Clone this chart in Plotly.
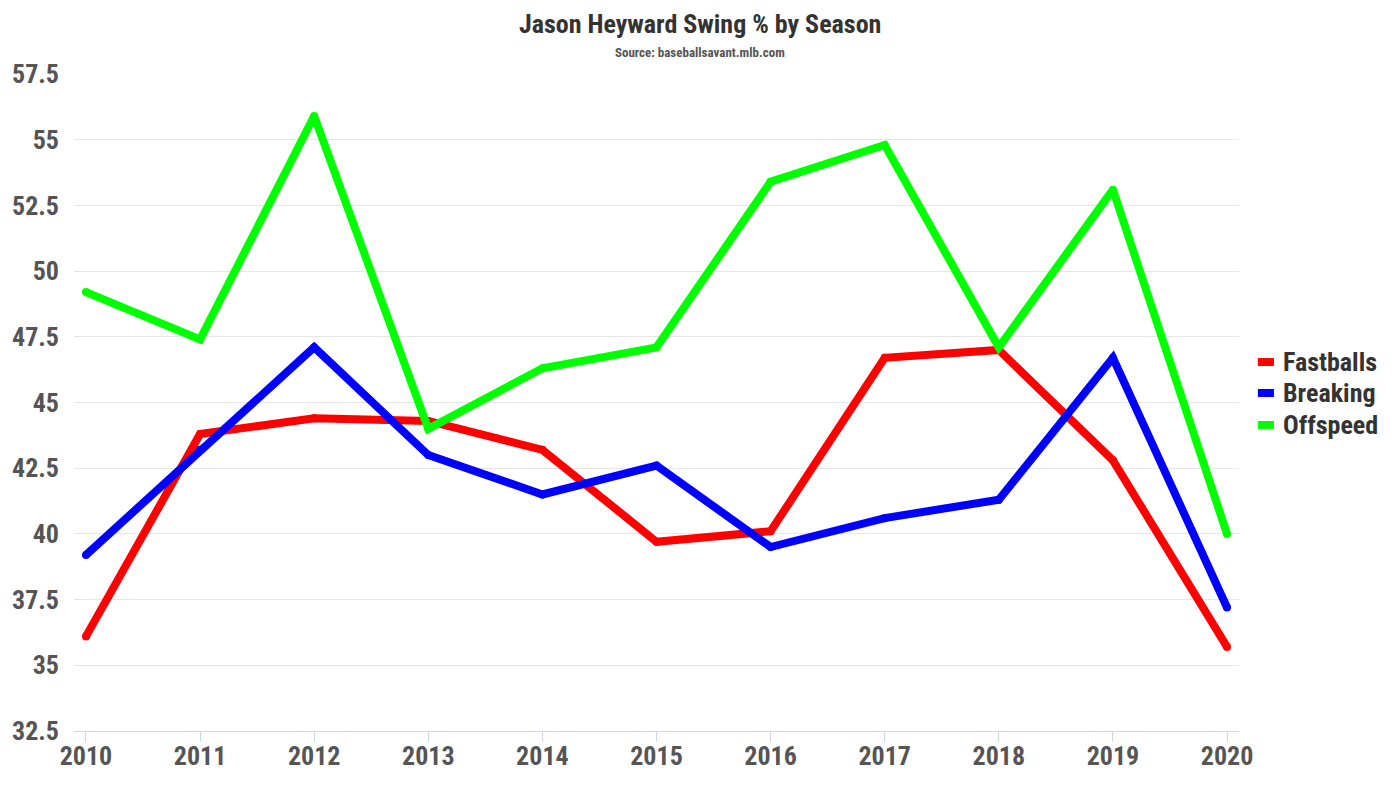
import plotly.graph_objects as go

years = [2010, 2011, 2012, 2013, 2014, 2015, 2016, 2017, 2018, 2019, 2020]
fastballs = [36.1, 43.8, 44.4, 44.3, 43.2, 39.7, 40.1, 46.7, 47.0, 42.8, 35.7]
breaking = [39.2, 43.2, 47.1, 43.0, 41.5, 42.6, 39.5, 40.6, 41.3, 46.7, 37.2]
offspeed = [49.2, 47.4, 55.9, 44.0, 46.3, 47.1, 53.4, 54.8, 47.1, 53.1, 40.0]
y_ticks = [32.5, 35, 37.5, 40, 42.5, 45, 47.5, 50, 52.5, 55, 57.5]
y_labels = ["32.5", "35", "37.5", "40", "42.5", "45", "47.5", "50", "52.5", "55", "57.5"]
series_names = ["Fastballs", "Breaking", "Offspeed"]
series_colors = ["#ff0000", "#0000ff", "#00ff00"]

FONT = "Roboto Condensed, Liberation Sans Narrow, Roboto, sans-serif"

fig = go.Figure()
for name, vals, color in zip(series_names, [fastballs, breaking, offspeed], series_colors):
    fig.add_trace(go.Scatter(x=years, y=vals, name=name, mode="lines+markers",
                             line=dict(color=color, width=8),
                             marker=dict(color=color, size=8, line=dict(width=0)),
                             showlegend=False))

# Title and subtitle
fig.add_annotation(text="<b>Jason Heyward Swing % by Season</b>", xref="paper", yref="paper",
                   x=0.5373, y=1.0761, xanchor="center", yanchor="middle", showarrow=False,
                   font=dict(size=26, color="#333333", family=FONT))
fig.add_annotation(text="<b>Source: baseballsavant.mlb.com</b>", xref="paper", yref="paper",
                   x=0.5373, y=1.0320, xanchor="center", yanchor="middle", showarrow=False,
                   font=dict(size=13, color="#555555", family=FONT))

# Custom legend
leg_y = [0.5616, 0.5145, 0.4658]
for name, color, ly in zip(series_names, series_colors, leg_y):
    fig.add_shape(type="line", xref="paper", yref="paper", x0=1.0162, x1=1.0300, y0=ly, y1=ly,
                  line=dict(color=color, width=8))
    fig.add_annotation(text="<b>" + name + "</b>", xref="paper", yref="paper", x=1.0360, y=ly,
                       xanchor="left", yanchor="middle", showarrow=False,
                       font=dict(size=26, color="#333333", family=FONT))

fig.update_layout(
    width=1400, height=788,
    paper_bgcolor="white", plot_bgcolor="white",
    margin=dict(l=74, r=161, t=74, b=57),
    font=dict(family=FONT, color="#333333"),
    showlegend=False,
    xaxis=dict(range=[2009.895, 2020.105], tickmode="array", tickvals=years,
               ticktext=[str(y) for y in years], showgrid=False,
               showline=True, linecolor="#ccd6eb", linewidth=1,
               ticks="outside", ticklen=10, tickcolor="#ccd6eb",
               ticklabelstandoff=-8,
               tickfont=dict(size=26, color="#555555", family=FONT, weight="bold"),
               zeroline=False, fixedrange=True),
    yaxis=dict(range=[32.5, 57.5], tickmode="array", tickvals=y_ticks, ticktext=y_labels,
               showgrid=True, gridcolor="#e6e6e6", gridwidth=1, zeroline=False,
               showline=False, ticks="", ticklabelstandoff=14,
               tickfont=dict(size=26, color="#555555", family=FONT, weight="bold")),
)

fig.write_html("out.html")
